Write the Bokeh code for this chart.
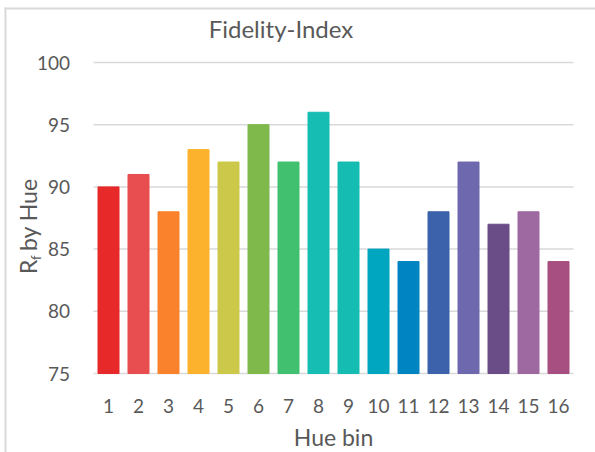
from math import pi
from bokeh.plotting import figure
from bokeh.models import ColumnDataSource, BoxAnnotation, Range1d
from bokeh.core.properties import value
from bokeh.embed import file_html
from bokeh.resources import INLINE

# ---- data ----
bins = [str(i) for i in range(1, 17)]
values = [90, 91, 88, 93, 92, 95, 92, 96, 92, 85, 84, 88, 92, 87, 88, 84]
colors = ["#E7292A", "#E84D4F", "#FA822C", "#FDB22D", "#CCC94A", "#7FB84B",
          "#41C16F", "#15BDB2", "#15BCB1", "#00A5C0", "#0085C2", "#3B62AA",
          "#6E69AE", "#6A4D86", "#9E69A1", "#A74F80"]
y_ticks = [75, 80, 85, 90, 95, 100]
title_text = "Fidelity-Index"
x_title = "Hue bin"
y_title_main = "R"
y_title_sub = "f"
y_title_rest = "by Hue"

FONT = "Lato"
TXT = "#595959"
GRID = "#D9D9D9"

# layout: plot area in page pixels (the frame covers the whole canvas)
W, H = 595, 452
AL, AR, AT, AB = 93, 573, 62, 373
PXU = (AR - AL) / len(bins)
PYU = (AB - AT) / (y_ticks[-1] - y_ticks[0])

def ux(px):
    return (px - AL) / PXU

def vy(py):
    return y_ticks[0] + (AB - py) / PYU

p = figure(x_range=Range1d(ux(0), ux(W)), y_range=Range1d(vy(H), vy(0)),
           width=W, height=H, min_border=0,
           output_backend="svg", toolbar_location=None, title=None)
p.axis.visible = False
p.grid.visible = False
p.outline_line_color = None

xs = [i + 0.5 for i in range(len(bins))]
src = ColumnDataSource(dict(x=xs, bins=bins, values=values, colors=colors))

# gridlines
p.segment(x0=0, x1=len(bins), y0=y_ticks, y1=y_ticks, line_color=GRID, line_width=1.5)

# bars
p.vbar(x="x", top="values", bottom=y_ticks[0], width=0.7, color="colors", source=src)

# tick labels
p.text(x=ux(69.5), y=y_ticks, text=[str(t) for t in y_ticks],
       text_font=value(FONT), text_font_size="19px", text_color=TXT,
       text_align="right", text_baseline="middle")
p.text(x="x", y=vy(405.5), text="bins", source=src,
       text_font=value(FONT), text_font_size="19px", text_color=TXT,
       text_align="center", text_baseline="middle")

def lab(text, px, py, size, angle=0, align="left"):
    p.text(x=[ux(px)], y=[vy(py)], text=[text], angle=angle,
           text_font=value(FONT), text_font_size=size, text_color=TXT,
           text_align=align, text_baseline="middle")

lab(title_text, 280.5, 27.5, "24px", align="center")
lab(x_title, 333, 436.5, "23px", align="center")
# rotated y title: R, subscript f, "by Hue" reading upward
lab(y_title_main, 27.5, 273.5, "23px", angle=pi / 2)
lab(y_title_sub, 35, 259.5, "13px", angle=pi / 2)
lab(y_title_rest, 27.5, 250.5, "23px", angle=pi / 2)

# chart border (left and top)
p.add_layout(BoxAnnotation(left=ux(4), right=ux(6), top=vy(7), bottom=vy(H + 10),
                           fill_color=GRID, fill_alpha=1, line_color=None))
p.add_layout(BoxAnnotation(left=ux(4), right=ux(W + 10), top=vy(7), bottom=vy(9),
                           fill_color=GRID, fill_alpha=1, line_color=None))

open("out.html", "w").write(file_html(p, INLINE))
